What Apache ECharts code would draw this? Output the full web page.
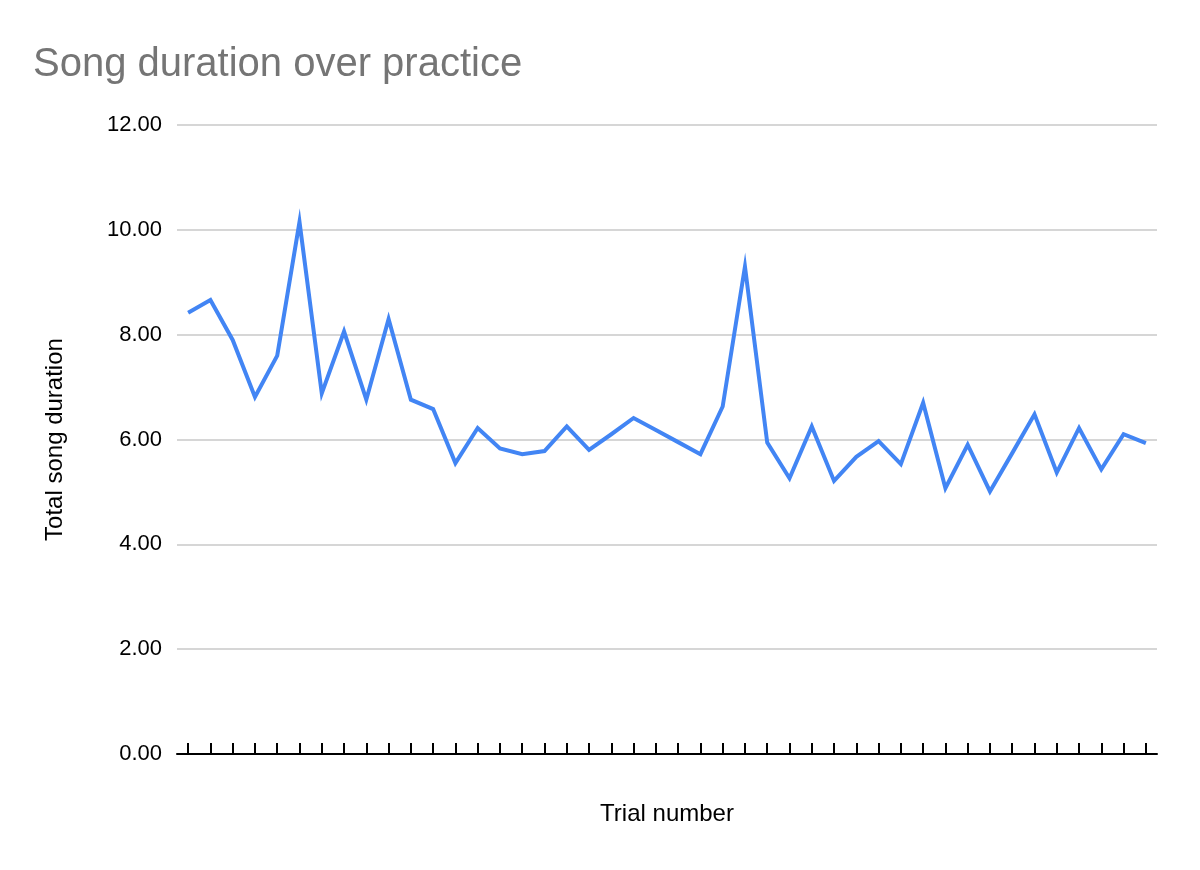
<!DOCTYPE html>
<html>
<head>
<meta charset="utf-8">
<script src="https://cdn.jsdelivr.net/npm/echarts@6/dist/echarts.min.js"></script>
<style>
  html, body { margin: 0; padding: 0; background: #fff; }
  #chart { width: 1200px; height: 870px; }
</style>
</head>
<body>
<div id="chart"></div>
<script>
// trial numbers 1..44 (no labels shown on axis)
const trials = ['1','2','3','4','5','6','7','8','9','10','11','12','13','14','15','16','17','18','19','20','21','22',
  '23','24','25','26','27','28','29','30','31','32','33','34','35','36','37','38','39','40','41','42','43','44']
const durations = [8.42, 8.66, 7.90, 6.81, 7.60, 10.15, 6.88, 8.06, 6.76, 8.30, 6.76, 6.58, 5.55, 6.22, 5.83,
  5.72, 5.78, 6.25, 5.80, 6.10, 6.41, 6.18, 5.95, 5.72, 6.63, 9.30, 5.94, 5.26, 6.25, 5.21,
  5.67, 5.97, 5.53, 6.70, 5.07, 5.90, 5.01, 5.74, 6.48, 5.37, 6.22, 5.43, 6.10, 5.93]
const yTicks = [0, 2, 4, 6, 8, 10, 12]

const font = 'Liberation Sans, Arial, sans-serif'

const chart = echarts.init(document.getElementById('chart'))
chart.setOption({
  animation: false,
  title: {
    text: 'Song duration over practice',
    left: 28,
    top: 40,
    textStyle: { color: '#757575', fontSize: 40, fontWeight: 'normal', fontFamily: font }
  },
  grid: { left: 177, right: 43, top: 125, bottom: 116, containLabel: false },
  xAxis: {
    type: 'category',
    data: trials,
    boundaryGap: true,
    name: 'Trial number',
    nameLocation: 'middle',
    nameGap: 48,
    nameTextStyle: { color: '#000', fontSize: 24, fontFamily: font },
    axisLine: { lineStyle: { color: '#000', width: 2 } },
    axisTick: { show: true, interval: 0, alignWithLabel: true, inside: true, length: 11, lineStyle: { color: '#000', width: 2 } },
    axisLabel: { show: true, interval: 0, formatter: () => '' },
    splitLine: { show: false }
  },
  yAxis: {
    type: 'value',
    min: yTicks[0],
    max: yTicks[yTicks.length - 1],
    interval: 2,
    name: 'Total song duration',
    nameLocation: 'middle',
    nameGap: 110,
    nameTextStyle: { color: '#000', fontSize: 24, fontFamily: font },
    axisLine: { show: false },
    axisTick: { show: false },
    axisLabel: {
      color: '#000', fontSize: 22, fontFamily: font, margin: 15,
      formatter: v => v.toFixed(2)
    },
    splitLine: { lineStyle: { color: '#c8c8c8', width: 1.5 } }
  },
  series: [{
    type: 'line',
    data: durations,
    symbol: 'none',
    lineStyle: { color: '#4285f4', width: 4, join: 'miter', miterLimit: 10 },
    itemStyle: { color: '#4285f4' }
  }]
})
</script>
</body>
</html>
